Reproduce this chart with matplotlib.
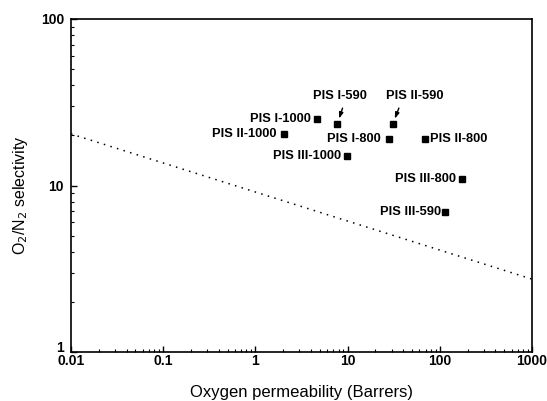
import matplotlib
matplotlib.use("Agg")
import matplotlib.pyplot as plt
from matplotlib.ticker import LogLocator, FixedLocator, NullFormatter

# Data
labels = ["PIS I-1000", "PIS I-590", "PIS II-590", "PIS II-1000", "PIS I-800",
          "PIS II-800", "PIS III-1000", "PIS III-800", "PIS III-590"]
permeability = [4.6, 7.7, 30.8, 2.06, 27.9, 69.0, 9.8, 175, 114]
selectivity = [25.1, 23.3, 23.3, 20.3, 19.1, 19.1, 15.0, 11.0, 6.96]

bound_x = [0.01, 1000]
bound_y = [20.4, 2.74]

x_ticks = [0.01, 0.1, 1, 10, 100, 1000]
x_ticklabels = ["0.01", "0.1", "1", "10", "100", "1000"]
y_ticks = [1, 10, 100]
y_ticklabels = ["1", "10", "100"]

# label placement (offset points, alignment)
label_pos = {
    "PIS I-1000": ((-4, 0), "right", "center"),
    "PIS I-590": ((2, 20.4), "center", "center"),
    "PIS II-590": ((16, 20.4), "center", "center"),
    "PIS II-1000": ((-5.5, 0), "right", "center"),
    "PIS I-800": ((-6, 0), "right", "center"),
    "PIS II-800": ((4, 0), "left", "center"),
    "PIS III-1000": ((-4.3, 0), "right", "center"),
    "PIS III-800": ((-4.8, 0), "right", "center"),
    "PIS III-590": ((-3, 0), "right", "center"),
}
arrows = {"PIS I-590": (3.9, 11.7), "PIS II-590": (4.5, 11.7)}

fig = plt.figure(figsize=(5.47, 4.01), dpi=100)
ax = fig.add_axes([71/547, 1-352/401, (532-71)/547, (352-19)/401])
ax.set_xscale("log")
ax.set_yscale("log")
ax.set_xlim(0.01, 1000)
ax.set_ylim(1, 100)

ax.plot(bound_x, bound_y, linestyle=(0, (1, 3.5)), color="black", lw=1.1)
ax.plot(permeability, selectivity, linestyle="none", marker="s", ms=4.2,
        color="black")

lab_font = dict(family="Liberation Sans", fontweight="bold", fontsize=9.3)
for name, x, y in zip(labels, permeability, selectivity):
    off, ha, va = label_pos[name]
    ax.annotate(name, (x, y), xytext=off, textcoords="offset points",
                ha=ha, va=va, **lab_font)
    if name in arrows:
        ax.annotate("", (x, y), xytext=arrows[name], textcoords="offset points",
                    arrowprops=dict(arrowstyle="-|>,head_length=0.35,head_width=0.12",
                                    color="black", lw=1.0, shrinkA=0, shrinkB=4.3))

ax.xaxis.set_major_locator(FixedLocator(x_ticks))
ax.set_xticklabels(x_ticklabels)
ax.yaxis.set_major_locator(FixedLocator(y_ticks))
ax.set_yticklabels(y_ticklabels)
ax.xaxis.set_minor_locator(LogLocator(base=10, subs=range(2, 10)))
ax.yaxis.set_minor_locator(LogLocator(base=10, subs=range(2, 10)))
ax.xaxis.set_minor_formatter(NullFormatter())
ax.yaxis.set_minor_formatter(NullFormatter())

ax.tick_params(which="both", direction="in", top=False, right=False)
ax.tick_params(which="major", length=4, width=1.0)
ax.tick_params(which="minor", length=2.2, width=0.8)
ax.tick_params(axis="x", which="major", pad=1.5)
ax.tick_params(axis="y", which="major", pad=5)
for lab in ax.get_xticklabels() + ax.get_yticklabels():
    lab.set_family("Liberation Sans")
    lab.set_fontweight("bold")
    lab.set_fontsize(10)
ax.yaxis.get_major_ticks()[0].label1.set_verticalalignment("baseline")

for s in ax.spines.values():
    s.set_linewidth(1.2)

ax.set_xlabel("Oxygen permeability (Barrers)", family="Liberation Sans",
              fontsize=12, labelpad=12)
ax.set_ylabel(r"O$_2$/N$_2$ selectivity", family="Liberation Sans",
              fontsize=11.5)
ax.yaxis.set_label_coords(-0.089, 0.47)

fig.savefig("out.png", dpi=100)
